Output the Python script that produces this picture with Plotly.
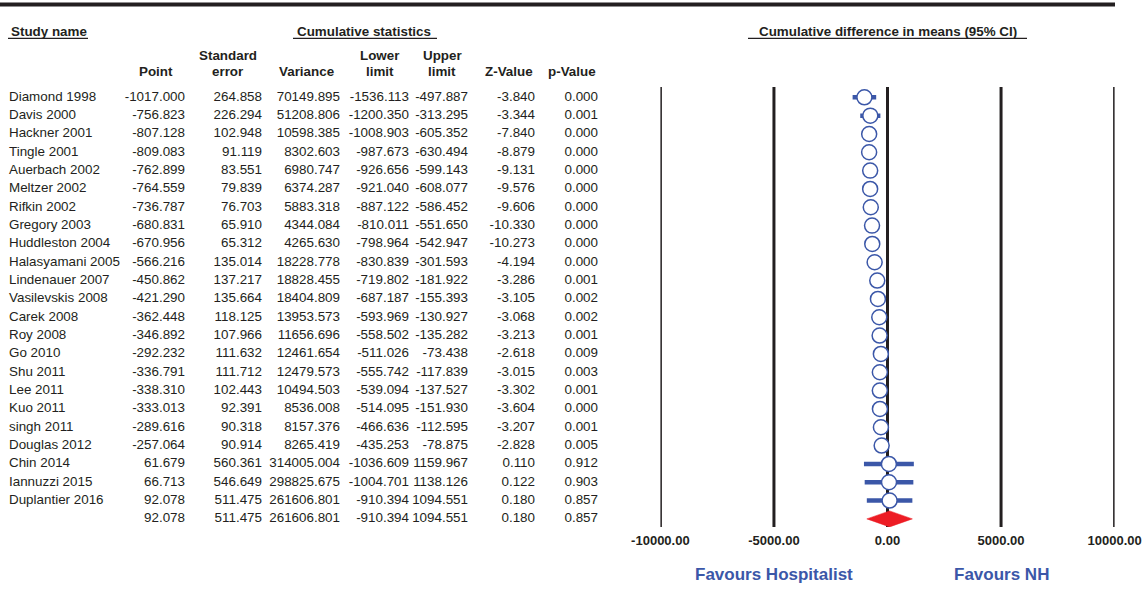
import plotly.graph_objects as go

W, H = 1148, 607

studies = ["Diamond 1998", "Davis 2000", "Hackner 2001", "Tingle 2001", "Auerbach 2002",
           "Meltzer 2002", "Rifkin 2002", "Gregory 2003", "Huddleston 2004", "Halasyamani 2005",
           "Lindenauer 2007", "Vasilevskis 2008", "Carek 2008", "Roy 2008", "Go 2010",
           "Shu 2011", "Lee 2011", "Kuo 2011", "singh 2011", "Douglas 2012",
           "Chin 2014", "Iannuzzi 2015", "Duplantier 2016", ""]
point = [-1017.000, -756.823, -807.128, -809.083, -762.899, -764.559, -736.787, -680.831,
         -670.956, -566.216, -450.862, -421.290, -362.448, -346.892, -292.232, -336.791,
         -338.310, -333.013, -289.616, -257.064, 61.679, 66.713, 92.078, 92.078]
std_err = [264.858, 226.294, 102.948, 91.119, 83.551, 79.839, 76.703, 65.910, 65.312,
           135.014, 137.217, 135.664, 118.125, 107.966, 111.632, 111.712, 102.443, 92.391,
           90.318, 90.914, 560.361, 546.649, 511.475, 511.475]
variance = [70149.895, 51208.806, 10598.385, 8302.603, 6980.747, 6374.287, 5883.318,
            4344.084, 4265.630, 18228.778, 18828.455, 18404.809, 13953.573, 11656.696,
            12461.654, 12479.573, 10494.503, 8536.008, 8157.376, 8265.419, 314005.004,
            298825.675, 261606.801, 261606.801]
lower = [-1536.113, -1200.350, -1008.903, -987.673, -926.656, -921.040, -887.122, -810.011,
         -798.964, -830.839, -719.802, -687.187, -593.969, -558.502, -511.026, -555.742,
         -539.094, -514.095, -466.636, -435.253, -1036.609, -1004.701, -910.394, -910.394]
upper = [-497.887, -313.295, -605.352, -630.494, -599.143, -608.077, -586.452, -551.650,
         -542.947, -301.593, -181.922, -155.393, -130.927, -135.282, -73.438, -117.839,
         -137.527, -151.930, -112.595, -78.875, 1159.967, 1138.126, 1094.551, 1094.551]
z_value = [-3.840, -3.344, -7.840, -8.879, -9.131, -9.576, -9.606, -10.330, -10.273, -4.194,
           -3.286, -3.105, -3.068, -3.213, -2.618, -3.015, -3.302, -3.604, -3.207, -2.828,
           0.110, 0.122, 0.180, 0.180]
p_value = [0.000, 0.001, 0.000, 0.000, 0.000, 0.000, 0.000, 0.000, 0.000, 0.000, 0.001,
           0.002, 0.002, 0.001, 0.009, 0.003, 0.001, 0.000, 0.001, 0.005, 0.912, 0.903,
           0.857, 0.857]

tick_vals = [-10000, -5000, 0, 5000, 10000]
tick_text = ["-10000.00", "-5000.00", "0.00", "5000.00", "10000.00"]

FONT = "Liberation Sans, Arial, sans-serif"
TXT = "#231f20"
BLUE = "#3b57a8"
RED = "#ed1c24"
FS = 13.4

n = len(studies)
rows = list(range(n))
study_rows = rows[:-1]
summary_row = rows[-1]

def px(x):
    return x / W

def py(y):
    return 1 - y / H

row0_px, step_px = 97.3, 18.33
plot_top, plot_bot = 87, 527
y_range = [(plot_bot - row0_px) / step_px, (plot_top - row0_px) / step_px]

fig = go.Figure()

col_right = {"point": 185, "se": 262, "var": 340, "lo": 409, "hi": 468, "z": 535, "p": 598}
cols = [("point", point), ("se", std_err), ("var", variance), ("lo", lower),
        ("hi", upper), ("z", z_value), ("p", p_value)]

fig.add_trace(go.Scatter(
    x=[9] * n, y=rows, text=studies, mode="text", textposition="middle right",
    textfont=dict(family=FONT, size=FS, color=TXT), xaxis="x2", yaxis="y",
    hoverinfo="skip", showlegend=False, cliponaxis=False))
for key, vals in cols:
    fig.add_trace(go.Scatter(
        x=[col_right[key]] * n, y=rows, text=[f"{v:.3f}" for v in vals],
        mode="text", textposition="middle left",
        textfont=dict(family=FONT, size=FS, color=TXT), xaxis="x2", yaxis="y",
        hoverinfo="skip", showlegend=False, cliponaxis=False))

ci_x, ci_y = [], []
for i in study_rows:
    ci_x += [lower[i], upper[i], None]
    ci_y += [i, i, None]
fig.add_trace(go.Scatter(x=ci_x, y=ci_y, mode="lines",
                         line=dict(color=BLUE, width=4.5),
                         hoverinfo="skip", showlegend=False, cliponaxis=False))
fig.add_trace(go.Scatter(
    x=point[:-1], y=study_rows, mode="markers",
    marker=dict(symbol="circle", size=15, color="white",
                line=dict(color=BLUE, width=1.5)),
    showlegend=False, cliponaxis=False))
hh = 8 / step_px
r = summary_row
fig.add_trace(go.Scatter(
    x=[lower[r], point[r], upper[r], point[r], lower[r]],
    y=[r, r - hh, r, r + hh, r], mode="lines", fill="toself",
    fillcolor=RED, line=dict(color=RED, width=0.5),
    showlegend=False, hoverinfo="skip", cliponaxis=False))

shapes = []
# vertical reference lines at the tick values (drawn below data)
for tv in tick_vals:
    shapes.append(dict(type="line", xref="x", yref="paper", x0=tv, x1=tv,
                       y0=py(plot_bot), y1=py(plot_top), layer="below",
                       line=dict(color=TXT, width=3)))
shapes.append(dict(type="line", xref="paper", yref="paper", x0=0, x1=px(1115),
                   y0=py(4.5), y1=py(4.5), line=dict(color=TXT, width=4)))
for x0, x1 in [(8, 88), (293, 437), (748, 1027)]:
    shapes.append(dict(type="line", xref="paper", yref="paper", x0=px(x0), x1=px(x1),
                       y0=py(38.3), y1=py(38.3), line=dict(color=TXT, width=1.2)))

annotations = []
def ann(text, x, y, xanchor="center", size=FS, color=TXT):
    annotations.append(dict(
        text=f"<b>{text}</b>", x=px(x), y=py(y),
        xref="paper", yref="paper", xanchor=xanchor, yanchor="middle",
        showarrow=False, font=dict(family=FONT, size=size, color=color)))

ann("Study name", 9, 31, xanchor="left")
ann("Cumulative statistics", 364.5, 31)
ann("Cumulative difference in means (95% CI)", 888, 31)
ann("Standard", 228, 56)
ann("Lower", 380, 56)
ann("Upper", 442, 56)
ann("Point", 175, 72, xanchor="right")
ann("error", 228, 72)
ann("Variance", 336, 72, xanchor="right")
ann("limit", 380, 72)
ann("limit", 442, 72)
ann("Z-Value", 535, 72, xanchor="right")
ann("p-Value", 598, 72, xanchor="right")

for label, xv in [("Favours Hospitalist", -5000), ("Favours NH", 5000)]:
    annotations.append(dict(
        text=f"<b>{label}</b>", x=xv, y=py(574), xref="x", yref="paper",
        xanchor="center", yanchor="middle", showarrow=False,
        font=dict(family=FONT, size=17, color=BLUE)))

fig.update_layout(
    width=W, height=H, margin=dict(l=0, r=0, t=0, b=0, autoexpand=False),
    paper_bgcolor="white", plot_bgcolor="rgba(0,0,0,0)",
    showlegend=False,
    xaxis=dict(domain=[px(660.4), px(1114.6)], range=[-10000, 10000],
               tickvals=tick_vals, ticktext=tick_text, showgrid=False,
               zeroline=False, showline=False, automargin=False,
               ticks="", ticklabelstandoff=4,
               tickfont=dict(family=FONT, size=13, color=TXT, weight="bold"),
               fixedrange=True, anchor="y"),
    xaxis2=dict(domain=[0, 1], range=[0, W], visible=False, anchor="y",
                fixedrange=True, automargin=False),
    yaxis=dict(domain=[py(plot_bot), py(plot_top)], range=y_range, visible=False,
               fixedrange=True, anchor="x", automargin=False),
    shapes=shapes, annotations=annotations,
)

fig.write_html("out.html")
